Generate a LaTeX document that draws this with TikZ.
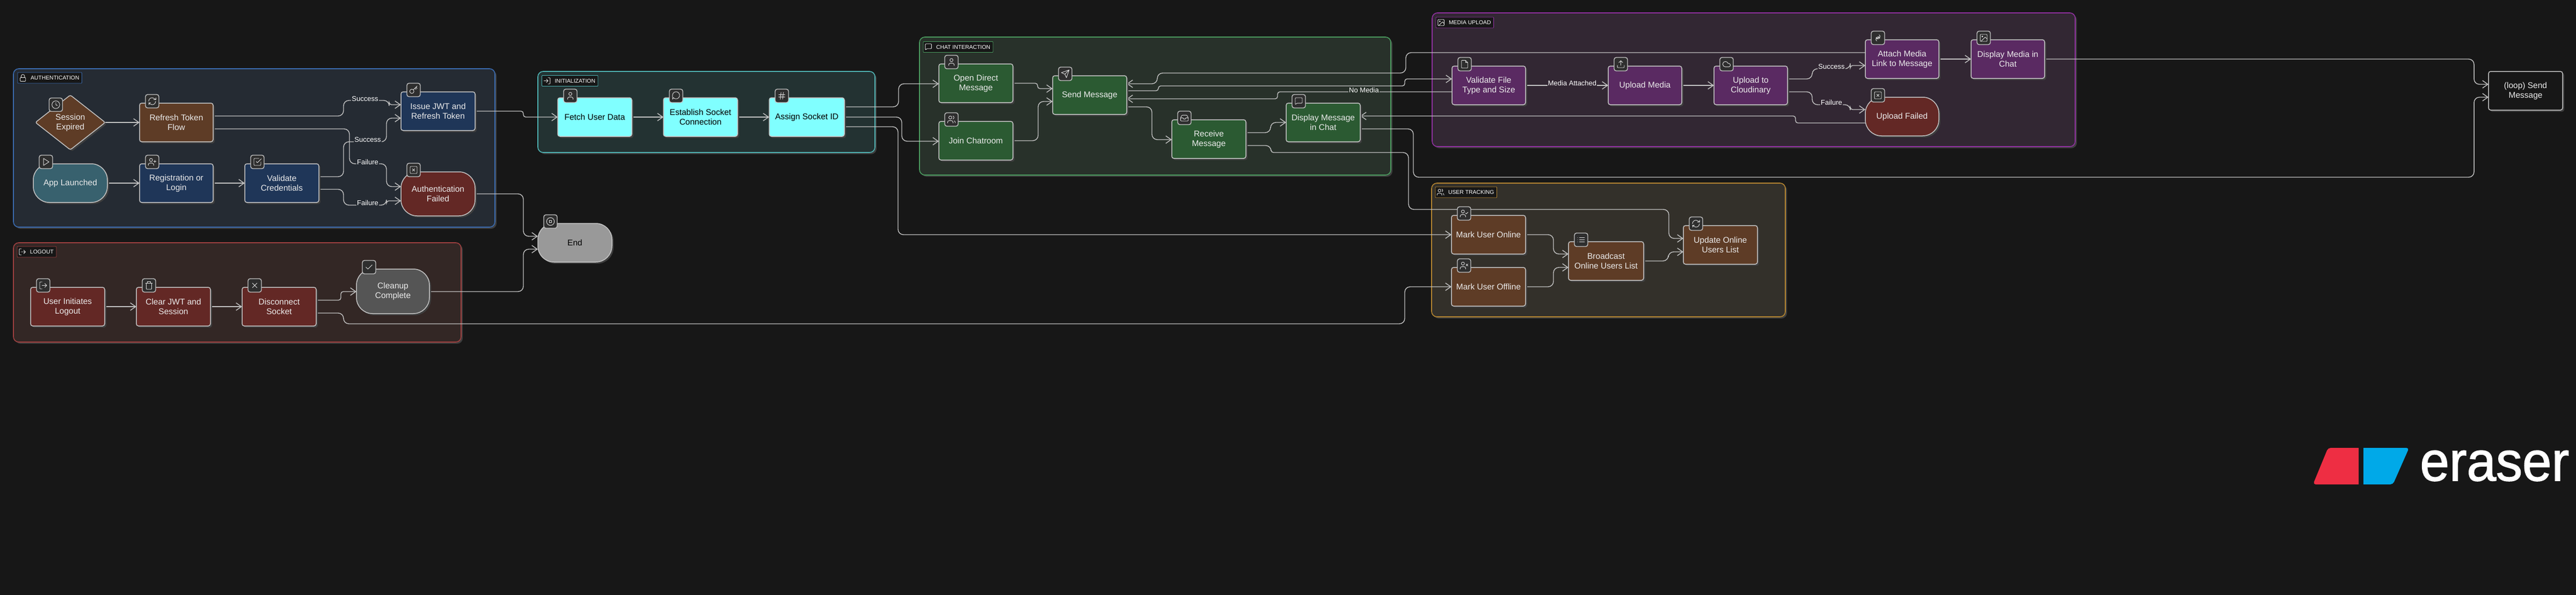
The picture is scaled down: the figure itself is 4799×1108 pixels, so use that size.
\documentclass[tikz,border=0pt]{standalone}
\usepackage{fontspec}
\setmainfont{Liberation Sans}
\newfontfamily\logofont[FakeBold=1.5]{Liberation Sans}
\usetikzlibrary{arrows.meta,shapes.geometric,shadows}
\definecolor{bgc}{HTML}{171717}
\definecolor{lnc}{HTML}{C4C4C4}
\definecolor{shc}{HTML}{3E3E3E}
\definecolor{cBrown}{HTML}{5E3C26}
\definecolor{cNavy}{HTML}{1F3658}
\definecolor{cTeal}{HTML}{38616E}
\definecolor{cRed}{HTML}{632825}
\definecolor{cGray}{HTML}{555555}
\definecolor{cEnd}{HTML}{999999}
\definecolor{cCyan}{HTML}{80FFFF}
\definecolor{cGreen}{HTML}{2B5A32}
\definecolor{cPurple}{HTML}{5A2A62}
\definecolor{gAuth}{HTML}{252B33}\definecolor{bAuth}{HTML}{3A6BB0}
\definecolor{gInit}{HTML}{233232}\definecolor{bInit}{HTML}{4FB3B3}
\definecolor{gChat}{HTML}{28312A}\definecolor{bChat}{HTML}{4A9A5E}
\definecolor{gMedia}{HTML}{322733}\definecolor{bMedia}{HTML}{9030A0}
\definecolor{gUser}{HTML}{33302A}\definecolor{bUser}{HTML}{B58530}
\definecolor{gOut}{HTML}{332725}\definecolor{bOut}{HTML}{A04040}
\definecolor{logoR}{HTML}{EE2E43}
\definecolor{logoB}{HTML}{00A9E8}
\pgfdeclarelayer{base}\pgfdeclarelayer{groups}\pgfdeclarelayer{wires}
\pgfsetlayers{base,groups,wires,main}
\tikzset{
 x=0.5pt,y=-0.5pt,
 shad/.style={general shadow={fill=shc,draw=none,shadow xshift=1.5pt,shadow yshift=-1.5pt}},
 flow/.style={rectangle,rounded corners=2pt,draw=lnc,line width=.75pt,text=white!92!black,align=center,inner sep=0pt,outer sep=0pt,
   font=\fontsize{7.75}{9}\selectfont,shad},
 term/.style={flow,rounded corners=15pt},
 grp/.style={rectangle,rounded corners=5pt,line width=.8pt,inner sep=0pt,outer sep=0pt,shad},
 glab/.style={rectangle,rounded corners=.5pt,fill=bgc,line width=.4pt,inner xsep=0pt,inner ysep=0pt,outer sep=0pt,minimum height=10pt,anchor=west,text=white,
   font=\fontsize{5.2}{6}\selectfont},
 badge/.style={rectangle,rounded corners=2pt,draw=lnc,line width=.7pt,fill=black!82,minimum width=12.5pt,minimum height=12.5pt,inner sep=0pt,outer sep=0pt},
 ic/.style={draw=white!88!black,line width=.45pt,line cap=round,line join=round},
 wire/.style={draw=lnc,line width=.7pt,rounded corners=5pt,-{Straight Barb[length=5pt,width=7pt]}},
 jog/.style={rounded corners=2.2pt},
 lab/.style={text=white,inner sep=.6pt,outer sep=0pt,font=\fontsize{6.5}{7}\selectfont},
}
% box node by pixel edges
\newcommand\nd[7]{\node[#6,minimum width={(#4-#2)*0.5pt},minimum height={(#5-#3)*0.5pt}] (#1) at ({(#2+#4)/2},{(#3+#5)/2}) {#7};}
\newcommand\grpbox[7]{\node[grp,fill=#6,draw=#7,minimum width={(#4-#2)*0.5pt},minimum height={(#5-#3)*0.5pt}] (#1) at ({(#2+#4)/2},{(#3+#5)/2}) {};}
% badge with an icon on a node
\newcommand\bdat[3]{\node[badge] (b#1) at (#2) {};\begin{scope}[shift={(b#1.center)},x=.36pt,y=-.36pt,shift={(-12,-12)}]#3\end{scope}}
\newcommand\bd[2]{\bdat{#1}{[xshift=11.75pt,yshift=1.75pt]#1.north west}{#2}}
% group title
\newcommand\gl[6]{\node[glab,draw=#4] (#1) at (#2,#3) {\hspace*{12pt}#5\hspace*{2.5pt}};\begin{scope}[shift={(#1.west)},x=.32pt,y=-.32pt,shift={(3,-12)}]#6\end{scope}}
% icons, on a 24 unit grid with y downwards
\newcommand\icLock{\draw[ic,rounded corners=.6pt] (4,11) rectangle (20,22);\draw[ic] (7,11) -- (7,7) arc (180:360:5) -- (17,11);}
\newcommand\icClock{\draw[ic] (12,12) circle (10);\draw[ic] (12,6) -- (12,12) -- (16,14);}
\newcommand\icRefresh{\draw[ic] (3,12) arc (180:310:9) -- (21,8);\draw[ic] (21,3) -- (21,8) -- (16,8);\draw[ic] (21,12) arc (0:130:9) -- (3,16);\draw[ic] (8,16) -- (3,16) -- (3,21);}
\newcommand\icPlay{\draw[ic] (6,3) -- (20,12) -- (6,21) -- cycle;}
\newcommand\icBody{\draw[ic] (9,7) circle (4);\draw[ic] (16,21) -- (16,19) arc (0:-90:4) -- (6,15) arc (270:180:4) -- (2,21);}
\newcommand\icUserPlus{\icBody\draw[ic] (19,8) -- (19,14) (22,11) -- (16,11);}
\newcommand\icUserCheck{\icBody\draw[ic] (16,11) -- (18,13) -- (22,9);}
\newcommand\icUserX{\icBody\draw[ic] (17,8) -- (22,13) (22,8) -- (17,13);}
\newcommand\icUsers{\icBody\draw[ic] (22,21) -- (22,19) arc (0:-70:4) (16,3.1) arc (-70:70:4);}
\newcommand\icSqCheck{\draw[ic,rounded corners=.6pt] (21,12) -- (21,21) -- (3,21) -- (3,3) -- (16,3);\draw[ic] (9,11) -- (12,14) -- (22,4);}
\newcommand\icKey{\draw[ic] (7.5,15.5) circle (5.5);\draw[ic] (21,2) -- (11.4,11.6) (15.5,7.5) -- (18.5,10.5) (18,5) -- (21,8);}
\newcommand\icSqX{\draw[ic,rounded corners=.6pt] (3,3) rectangle (21,21);\draw[ic] (9,9) -- (15,15) (15,9) -- (9,15);}
\newcommand\icLogout{\draw[ic,rounded corners=.6pt] (9,21) -- (3,21) -- (3,3) -- (9,3);\draw[ic] (16,17) -- (21,12) -- (16,7) (21,12) -- (9,12);}
\newcommand\icLogin{\draw[ic,rounded corners=.6pt] (15,3) -- (21,3) -- (21,21) -- (15,21);\draw[ic] (10,17) -- (15,12) -- (10,7) (15,12) -- (3,12);}
\newcommand\icTrash{\draw[ic] (3,6) -- (21,6);\draw[ic,rounded corners=.6pt] (5,6) -- (5,22) -- (19,22) -- (19,6);\draw[ic] (8,6) -- (8,2) -- (16,2) -- (16,6);}
\newcommand\icX{\draw[ic] (18,6) -- (6,18) (6,6) -- (18,18);}
\newcommand\icCheck{\draw[ic] (20,6) -- (9,17) -- (4,12);}
\newcommand\icUser{\draw[ic] (12,7) circle (4);\draw[ic] (19,21) -- (19,19) arc (0:-90:4) -- (9,15) arc (270:180:4) -- (5,21);}
\newcommand\icBubble{\draw[ic] (4.9,16.5) arc (140:-175:9.2) -- (3,21) -- cycle;}
\newcommand\icHash{\draw[ic] (4,9) -- (20,9) (4,15) -- (20,15) (10,3) -- (8,21) (16,3) -- (14,21);}
\newcommand\icStop{\draw[ic] (12,12) circle (10);\draw[ic] (9,9) rectangle (15,15);}
\newcommand\icMsg{\draw[ic,rounded corners=.6pt] (21,3) -- (21,17) -- (7,17) -- (3,21) -- (3,3) -- cycle;}
\newcommand\icSend{\draw[ic] (22,2) -- (15,22) -- (11,13) -- (2,9) -- cycle (22,2) -- (11,13);}
\newcommand\icInbox{\draw[ic] (22,12) -- (16,12) -- (14,15) -- (10,15) -- (8,12) -- (2,12);\draw[ic,rounded corners=.6pt] (2,12) -- (5.5,5) -- (18.5,5) -- (22,12) -- (22,20) -- (2,20) -- cycle;}
\newcommand\icImage{\draw[ic,rounded corners=.6pt] (3,3) rectangle (21,21);\draw[ic] (8.5,8.5) circle (1.5);\draw[ic] (21,15) -- (16,10) -- (5,21);}
\newcommand\icFile{\draw[ic,rounded corners=.5pt] (14,2) -- (4,2) -- (4,22) -- (20,22) -- (20,8) -- cycle;\draw[ic] (14,2) -- (14,8) -- (20,8);}
\newcommand\icUpload{\draw[ic,rounded corners=.6pt] (21,15) -- (21,21) -- (3,21) -- (3,15);\draw[ic] (17,8) -- (12,3) -- (7,8) (12,3) -- (12,15);}
\newcommand\icCloud{\draw[ic] (17.5,19) -- (9,19) arc (90:340:7) -- (17.5,10) arc (-90:90:4.5);}
\newcommand\icLink{\draw[ic] (10,13) arc (150:-60:3) -- (17,13) (14,11) arc (-30:-240:3) -- (7,11);\draw[ic] (9,15) -- (15,9);\draw[ic] (15,4) arc (-60:60:5) (9,20) arc (120:240:5);}
\newcommand\icList{\draw[ic] (8,6) -- (21,6) (8,12) -- (21,12) (8,18) -- (21,18) (3,6) -- (3.1,6) (3,12) -- (3.1,12) (3,18) -- (3.1,18);}
\begin{document}
\begin{tikzpicture}
\useasboundingbox (0,0) rectangle (4799,1108);
\begin{pgfonlayer}{base}
\fill[bgc] (0,0) rectangle (4799,1108);
\end{pgfonlayer}
\begin{pgfonlayer}{groups}
\grpbox{gA}{25}{128}{922}{423}{gAuth}{bAuth}
\grpbox{gL}{25}{452}{859}{637}{gOut}{bOut}
\grpbox{gI}{1002}{133}{1630}{284}{gInit}{bInit}
\grpbox{gC}{1713}{69}{2591}{326}{gChat}{bChat}
\grpbox{gM}{2668}{24}{3866}{273}{gMedia}{bMedia}
\grpbox{gU}{2667}{341}{3326}{590}{gUser}{bUser}
\end{pgfonlayer}
\gl{tA}{33}{145}{bAuth}{AUTHENTICATION}{\icLock}
\gl{tL}{32}{469}{bOut}{LOGOUT}{\icLogout}
\gl{tI}{1009.5}{150.5}{bInit}{INITIALIZATION}{\icLogin}
\gl{tC}{1720}{87.5}{bChat}{CHAT INTERACTION}{\icMsg}
\gl{tM}{2675}{42}{bMedia}{MEDIA UPLOAD}{\icImage}
\gl{tU}{2674}{358}{bUser}{USER TRACKING}{\icUsers}
% authentication
\node[flow,diamond,aspect=1.27,fill=cBrown,rounded corners=1.5pt,minimum width=65pt,minimum height=51pt] (sess) at (131,228) {Session\\Expired};
\nd{rt}{260}{192}{397}{264}{flow,fill=cBrown}{Refresh Token\\Flow}
\nd{app}{62}{305}{200}{377}{term,fill=cTeal}{App Launched}
\nd{reg}{260}{305}{397}{377}{flow,fill=cNavy}{Registration or\\Login}
\nd{val}{456}{305}{594}{377}{flow,fill=cNavy}{Validate\\Credentials}
\nd{iss}{747}{171}{885}{243}{flow,fill=cNavy}{Issue JWT and\\Refresh Token}
\nd{fail}{747}{320}{885}{402}{term,fill=cRed}{Authentication\\Failed}
% logout
\nd{ui}{57}{535}{195}{607}{flow,fill=cRed}{User Initiates\\Logout}
\nd{clr}{254}{535}{392}{607}{flow,fill=cRed}{Clear JWT and\\Session}
\nd{dis}{451}{535}{589}{607}{flow,fill=cRed}{Disconnect\\Socket}
\nd{cln}{664}{501}{800}{584}{term,fill=cGray}{Cleanup\\Complete}
\nd{end}{1002}{416}{1140}{488}{term,fill=cEnd,text=black}{End}
% initialization
\nd{fet}{1039}{182}{1177}{254}{flow,fill=cCyan,text=black}{Fetch User Data}
\nd{est}{1236}{182}{1374}{254}{flow,fill=cCyan,text=black}{Establish Socket\\Connection}
\nd{asg}{1433}{182}{1573}{254}{flow,fill=cCyan,text=black}{Assign Socket ID}
% chat
\nd{odm}{1749}{119}{1887}{191}{flow,fill=cGreen}{Open Direct\\Message}
\nd{joi}{1749}{226}{1887}{298}{flow,fill=cGreen}{Join Chatroom}
\nd{snd}{1961}{141}{2099}{213}{flow,fill=cGreen}{Send Message}
\nd{rcv}{2183}{223}{2321}{295}{flow,fill=cGreen}{Receive\\Message}
\nd{dsp}{2396}{192}{2534}{264}{flow,fill=cGreen}{Display Message\\in Chat}
% media
\nd{vf}{2705}{123}{2842}{195}{flow,fill=cPurple}{Validate File\\Type and Size}
\nd{um}{2996}{123}{3133}{195}{flow,fill=cPurple}{Upload Media}
\nd{uc}{3193}{123}{3330}{195}{flow,fill=cPurple}{Upload to\\Cloudinary}
\nd{att}{3475}{74}{3612}{146}{flow,fill=cPurple}{Attach Media\\Link to Message}
\nd{dm}{3672}{74}{3809}{146}{flow,fill=cPurple}{Display Media in\\Chat}
\nd{uf}{3475}{181}{3612}{253}{term,fill=cRed}{Upload Failed}
% tracking
\nd{mon}{2704}{401}{2842}{473}{flow,fill=cBrown}{Mark User Online}
\nd{mof}{2704}{498}{2842}{570}{flow,fill=cBrown}{Mark User Offline}
\nd{brd}{2922}{450}{3062}{522}{flow,fill=cBrown}{Broadcast\\Online Users List}
\nd{upd}{3136}{420}{3274}{492}{flow,fill=cBrown}{Update Online\\Users List}
\nd{lp}{4636}{133}{4774}{205}{flow,fill=bgc}{(loop) Send\\Message}
% badges
\bdat{sess}{104,195}{\icClock}
\bd{rt}{\icRefresh}
\bd{app}{\icPlay}
\bd{reg}{\icUserPlus}
\bd{val}{\icSqCheck}
\bd{iss}{\icKey}
\bd{fail}{\icSqX}
\bd{ui}{\icLogout}
\bd{clr}{\icTrash}
\bd{dis}{\icX}
\bd{cln}{\icCheck}
\bd{end}{\icStop}
\bd{fet}{\icUser}
\bd{est}{\icBubble}
\bd{asg}{\icHash}
\bd{odm}{\icUser}
\bd{joi}{\icUsers}
\bd{snd}{\icSend}
\bd{rcv}{\icInbox}
\bd{dsp}{\icMsg}
\bd{vf}{\icFile}
\bd{um}{\icUpload}
\bd{uc}{\icCloud}
\bd{att}{\icLink}
\bd{dm}{\icImage}
\bd{uf}{\icSqX}
\bd{mon}{\icUserCheck}
\bd{mof}{\icUserX}
\bd{brd}{\icList}
\bd{upd}{\icRefresh}
\begin{pgfonlayer}{wires}
\draw[wire] (sess.east) -- (rt.west);
\draw[wire] (app.east) -- (reg.west);
\draw[wire] (reg.east) -- (val.west);
\draw[wire] (rt.east |- 0,216) -- (640,216) -- (640,187) -- (725,187) [jog] -- (725,195) -- (iss.west |- 0,195);
\draw[wire] (rt.east |- 0,240) -- (651,240) -- (651,305) -- (720,305) -- (720,347.5) -- (fail.west |- 0,347.5);
\draw[wire] (val.east |- 0,329) -- (640,329) -- (640,264) -- (720,264) -- (720,220) -- (iss.west |- 0,220);
\draw[wire] (val.east |- 0,352.5) -- (640,352.5) -- (640,382) -- (720,382) [jog] -- (720,374) -- (fail.west |- 0,374);
\draw[wire,jog] (iss.east |- 0,207) -- (975,207) -- (975,218) -- (fet.west);
\draw[wire] (fail.east |- 0,361) -- (975,361) -- (975,440) -- (end.west |- 0,440);
\draw[wire] (cln.east |- 0,543) -- (975,543) -- (975,464) -- (end.west |- 0,464);
\draw[wire] (ui.east) -- (clr.west);
\draw[wire] (clr.east) -- (dis.west);
\draw[wire,jog] (dis.east |- 0,559) -- (635,559) -- (635,543) -- (cln.west |- 0,543);
\draw[wire] (dis.east |- 0,583) -- (640,583) -- (640,603) -- (2617,603) -- (2617,534) -- (mof.west |- 0,534);
\draw[wire] (fet.east) -- (est.west);
\draw[wire] (est.east) -- (asg.west);
\draw[wire] (asg.east |- 0,199) -- (1674,199) -- (1674,156) -- (odm.west |- 0,156);
\draw[wire] (asg.east) -- (1680,218) -- (1680,263) -- (joi.west |- 0,263);
\draw[wire] (asg.east |- 0,236) -- (1673,236) -- (1673,437) -- (mon.west |- 0,437);
\draw[wire,jog] (odm.east |- 0,155) -- (1933,155) -- (1933,165) -- (snd.west |- 0,165);
\draw[wire] (joi.east |- 0,262) -- (1934,262) -- (1934,189) -- (snd.west |- 0,189);
\draw[wire] (snd.east |- 0,199) -- (2146,199) -- (2146,260) -- (rcv.west |- 0,260);
\draw[wire] (rcv.east |- 0,247) -- (2367,247) -- (2367,228) -- (dsp.west |- 0,228);
\draw[wire] (rcv.east |- 0,271) -- (2368,271) [jog] -- (2368,284) [rounded corners=5pt] -- (2624,284) -- (2624,390) -- (3109,390) -- (3109,444) -- (upd.west |- 0,444);
\draw[wire] (dsp.east |- 0,240) -- (2633,240) -- (2633,330) -- (4609,330) -- (4609,181) -- (lp.west |- 0,181);
\draw[wire] (dm.east) -- (4609,110) -- (4609,157) -- (lp.west |- 0,157);
\draw[wire] (att.west |- 0,98) -- (2619,98) -- (2619,136) -- (2156,136) -- (2156,156) -- (snd.east |- 0,156);
\draw[wire,jog] (snd.east |- 0,169) -- (2158,169) -- (2158,160) -- (2617,160) -- (2617,147) -- (vf.west |- 0,147);
\draw[wire,jog] (vf.west |- 0,171) -- (2380,171) -- (2380,184) -- (snd.east |- 0,184);
\draw[wire,jog] (uf.west |- 0,229) -- (3345,229) -- (3345,216) -- (dsp.east |- 0,216);
\draw[wire] (vf.east) -- (um.west);
\draw[wire] (um.east) -- (uc.west);
\draw[wire] (uc.east |- 0,147) -- (3376,147) -- (3376,128) -- (3447,128) [jog] -- (3447,122) -- (att.west |- 0,122);
\draw[wire] (uc.east |- 0,171) -- (3376,171) -- (3376,195) -- (3447,195) [jog] -- (3447,204) -- (uf.west |- 0,204);
\draw[wire] (att.east) -- (dm.west);
\draw[wire] (mon.east) -- (2894,437) -- (2894,473) -- (brd.west |- 0,473);
\draw[wire] (mof.east) -- (2894,534) -- (2894,498) -- (brd.west |- 0,498);
\draw[wire] (brd.east |- 0,486) -- (3108,486) -- (3108,469) -- (upd.west |- 0,469);
\end{pgfonlayer}
% connector labels
\node[lab,fill=gAuth] (l1) at (680,184) {Success};
\node[lab,fill=gAuth] (l2) at (685,260) {Success};
\node[lab,fill=gAuth] (l3) at (685,302) {Failure};
\node[lab,fill=gAuth] (l4) at (685,378) {Failure};
\node[lab,fill=gChat] (l5) at (2541,168) {No Media};
\node[lab,fill=gMedia] (l6) at (2929,155) {Media Attached};
\node[lab,fill=gMedia] (l7) at (3412,124) {Success};
\node[lab,fill=gMedia] (l8) at (3412,191) {Failure};
% logo
\fill[logoR] (4394,902) -- (4394,834) [rounded corners=2.5pt] -- (4337,834) -- (4309,902) [sharp corners] -- cycle;
\fill[logoB] (4403,834) [rounded corners=2.5pt] -- (4488,834) -- (4458,902) [sharp corners] -- (4403,902) -- cycle;
\node[anchor=base west,inner sep=0pt,text=white,font=\logofont\fontsize{49}{49}\selectfont] (logo) at (4508,895) {\scalebox{1}[1.06]{eraser}};
\end{tikzpicture}
\end{document}
